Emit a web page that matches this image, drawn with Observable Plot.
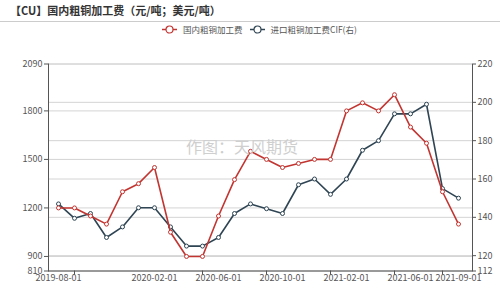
<!DOCTYPE html>
<html>
<head>
<meta charset="utf-8">
<script src="https://cdn.jsdelivr.net/npm/d3@7"></script>
<script src="https://cdn.jsdelivr.net/npm/@observablehq/plot@0.6"></script>
<style>
  html, body { margin: 0; padding: 0; background: #fff; }
  body { width: 500px; height: 284px; position: relative; overflow: hidden; font-family: "Noto Sans CJK SC", "Noto Sans", sans-serif; }
  #title { height: 21px; line-height: 21px; padding-left: 10px; font-size: 11px; font-weight: bold; color: #333; border-bottom: 1px solid #ccc; box-sizing: content-box; }
  #legend { height: 14px; display: flex; align-items: center; padding-left: 162px; font-size: 8.5px; color: #555; }
  .item { display: flex; align-items: center; margin-right: 7px; }
  .item svg { margin-right: 6px; }
  #wm { position: absolute; left: 186px; top: 137px; font-size: 16px; line-height: 18px; color: #cfcfcf; white-space: nowrap; }
  #chart svg { display: block; }
</style>
</head>
<body>
<div id="title">【CU】国内粗铜加工费（元/吨；美元/吨）</div>
<div id="legend"></div>
<div id="chart"></div>
<div id="wm">作图：天风期货</div>
<script>
const months = ["2019-08","2019-09","2019-10","2019-11","2019-12","2020-01","2020-02","2020-03","2020-04","2020-05","2020-06","2020-07","2020-08","2020-09","2020-10","2020-11","2020-12","2021-01","2021-02","2021-03","2021-04","2021-05","2021-06","2021-07","2021-08","2021-09"];
const domestic = [1200,1200,1150,1100,1300,1350,1450,1050,900,900,1150,1375,1550,1500,1450,1475,1500,1500,1800,1850,1800,1900,1700,1600,1300,1100];
const imported = [147,139.5,142,129.5,135,145,145,135,125,125,129.5,142,147,144.5,142,157,160,152,160,175,180,194,194,199,155,150];
const seriesNames = ["国内粗铜加工费", "进口粗铜加工费CIF(右)"];
const seriesColors = ["#c23531", "#2f4554"];
const leftTicks = [810, 900, 1200, 1500, 1800, 2090];
const rightTicks = [112, 120, 140, 160, 180, 200, 220];
const labelMonths = ["2019-08","2020-02","2020-06","2020-10","2021-02","2021-06","2021-09"];
const tickMarkMonths = ["2019-09","2020-05","2020-09","2021-01","2021-05","2021-08"];
const watermark = "作图：天风期货";

const leftDomain = [810, 2090];
const rightDomain = [112, 220];
const k = (leftDomain[1] - leftDomain[0]) / (rightDomain[1] - rightDomain[0]);
const toLeft = v => leftDomain[0] + (v - rightDomain[0]) * k;
const fromLeft = v => rightDomain[0] + (v - leftDomain[0]) / k;

const dom = months.map((m, i) => ({m, v: domestic[i]}));
const imp = months.map((m, i) => ({m, v: toLeft(imported[i])}));

// legend
const legend = document.getElementById("legend");
seriesNames.forEach((name, i) => {
  const it = document.createElement("div");
  it.className = "item";
  it.innerHTML = `<svg width="15" height="9"><line x1="0" x2="15" y1="4.5" y2="4.5" stroke="${seriesColors[i]}" stroke-width="1.5"/><circle cx="7.5" cy="4.5" r="3.5" fill="#fff" stroke="${seriesColors[i]}" stroke-width="1.2"/></svg><span>${name}</span>`;
  legend.appendChild(it);
});

const axisColor = "#555";
const chart = Plot.plot({
  width: 500,
  height: 248,
  marginTop: 27.5,
  marginBottom: 13.5,
  marginLeft: 48,
  marginRight: 28,
  style: {fontFamily: "'Noto Sans CJK SC', 'Noto Sans', sans-serif", fontSize: "9px", color: "#555", background: "#fff"},
  x: {type: "point", domain: months, padding: 0.47, align: 0.43},
  y: {domain: leftDomain},
  marks: [
    Plot.gridY(leftTicks, {stroke: "#d4d4d4", strokeOpacity: 1}),
    Plot.gridY(rightTicks.map(toLeft), {stroke: "#d4d4d4", strokeOpacity: 1}),
    Plot.frame({anchor: "left", stroke: axisColor}),
    Plot.frame({anchor: "right", stroke: axisColor}),
    Plot.frame({anchor: "bottom", stroke: axisColor}),
    Plot.axisY(leftTicks, {anchor: "left", tickSize: 4, tickPadding: 2, stroke: axisColor, fill: "#555", label: null, tickFormat: d => String(d)}),
    Plot.axisY(rightTicks.map(toLeft), {anchor: "right", tickSize: 3, tickPadding: 2, stroke: axisColor, fill: "#555", label: null, tickFormat: d => String(Math.round(fromLeft(d)))}),
    Plot.axisX(tickMarkMonths, {anchor: "bottom", tickSize: 4, tickFormat: () => "", stroke: axisColor, label: null}),
    Plot.axisX(labelMonths, {anchor: "bottom", tickSize: 0, tickPadding: 4, fill: "#555", label: null, tickFormat: d => d + "-01"}),
    Plot.line(imp, {x: "m", y: "v", stroke: seriesColors[1], strokeWidth: 1.6}),
    Plot.dot(imp, {x: "m", y: "v", r: 2, fill: "#fff", stroke: seriesColors[1], strokeWidth: 1}),
    Plot.line(dom, {x: "m", y: "v", stroke: seriesColors[0], strokeWidth: 1.6}),
    Plot.dot(dom, {x: "m", y: "v", r: 2, fill: "#fff", stroke: seriesColors[0], strokeWidth: 1})
  ]
});
document.getElementById("chart").appendChild(chart);
document.getElementById("wm").textContent = watermark;
</script>
</body>
</html>
